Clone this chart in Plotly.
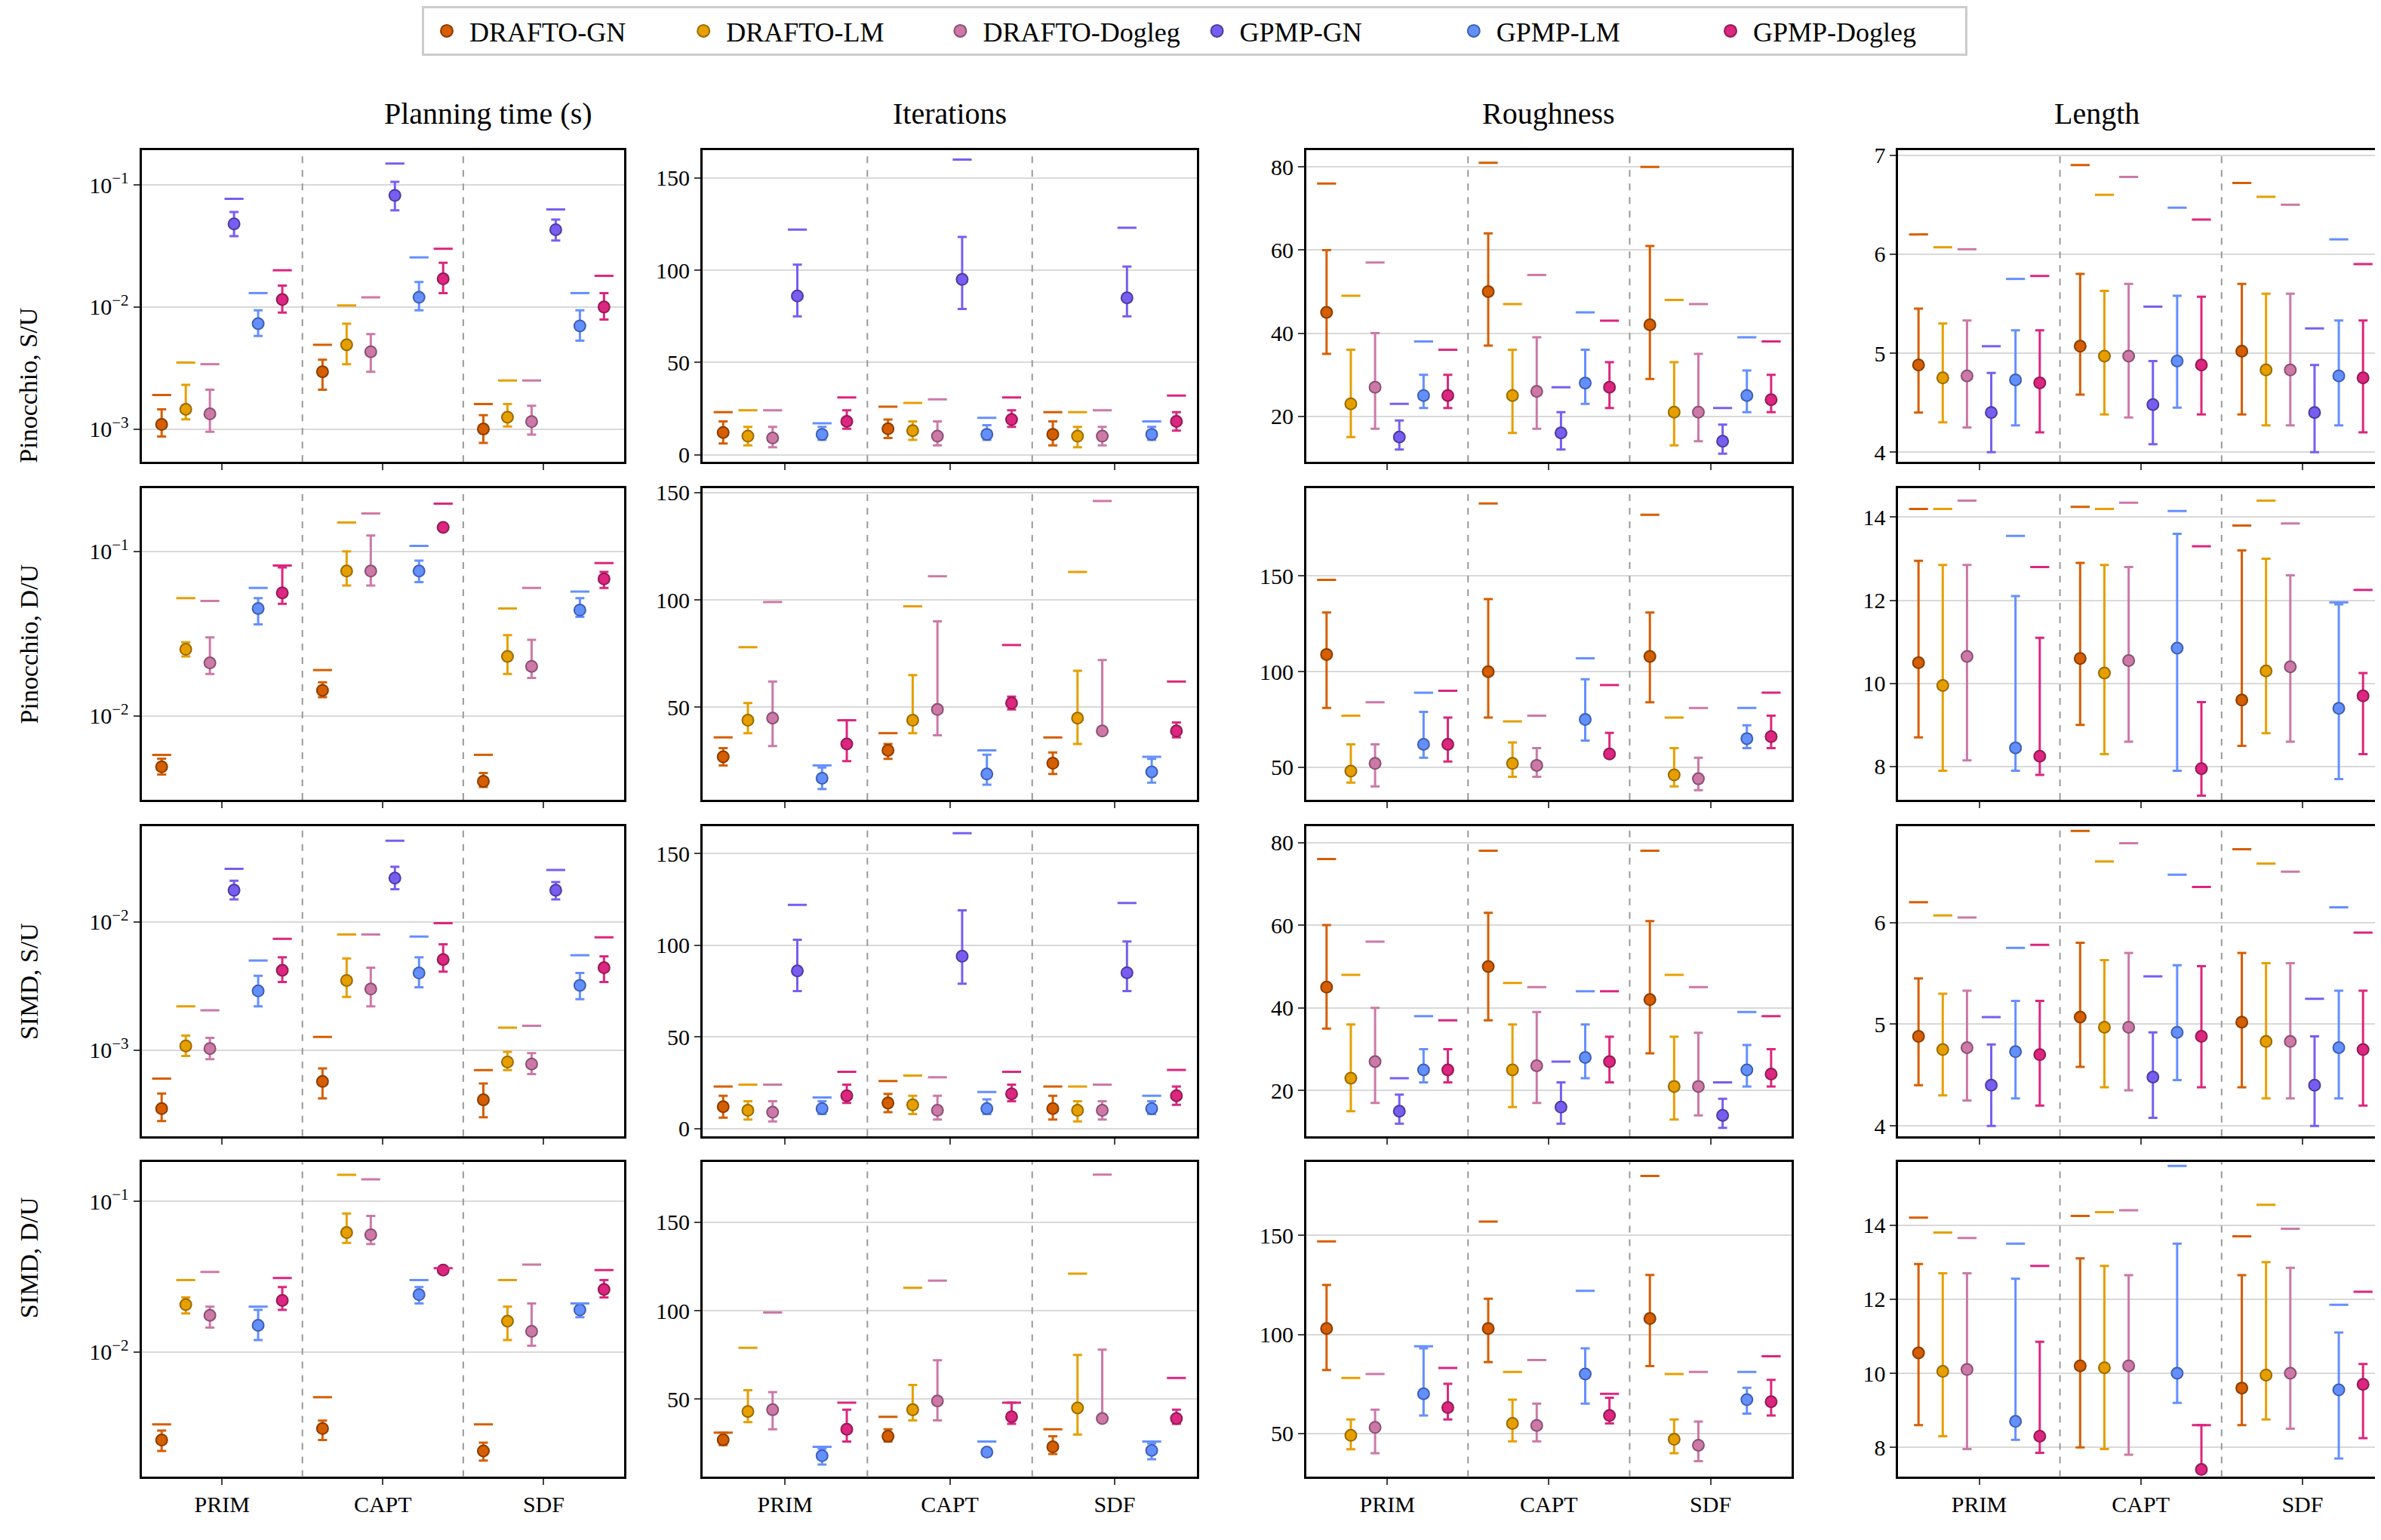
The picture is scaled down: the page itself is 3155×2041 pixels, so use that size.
import plotly.graph_objects as go
from plotly.subplots import make_subplots

methods = ["DRAFTO-GN", "DRAFTO-LM", "DRAFTO-Dogleg", "GPMP-GN", "GPMP-LM", "GPMP-Dogleg"]
colors = ["#D55E00", "#E69F00", "#CC79A7", "#785EF0", "#648FFF", "#DC267F"]
edges = ["#8a3c00", "#9a6a00", "#8a4f72", "#4e3aa0", "#3e5fb0", "#921a55"]
groups = ["PRIM", "CAPT", "SDF"]
col_titles = ["Planning time (s)", "Iterations", "Roughness", "Length"]
row_titles = ["Pinocchio, S/U", "Pinocchio, D/U", "SIMD, S/U", "SIMD, D/U"]
N = None
# each entry: (median, lower, upper, top marker) per method, per group
time_pin_su = [
    [(1.09e-3, 8.7e-4, 1.45e-3, 1.9e-3), (1.45e-3, 1.2e-3, 2.3e-3, 3.5e-3), (1.33e-3, 9.5e-4, 2.1e-3, 3.4e-3),
     (4.8e-2, 3.8e-2, 6.0e-2, 7.7e-2), (7.3e-3, 5.8e-3, 9.4e-3, 1.3e-2), (1.15e-2, 9e-3, 1.5e-2, 2e-2)],
    [(2.95e-3, 2.1e-3, 3.7e-3, 4.9e-3), (4.9e-3, 3.4e-3, 7.3e-3, 1.03e-2), (4.3e-3, 2.95e-3, 6e-3, 1.2e-2),
     (8.2e-2, 6.2e-2, 0.106, 0.15), (1.2e-2, 9.4e-3, 1.6e-2, 2.55e-2), (1.7e-2, 1.3e-2, 2.3e-2, 3e-2)],
    [(1e-3, 7.7e-4, 1.3e-3, 1.6e-3), (1.25e-3, 1.05e-3, 1.6e-3, 2.5e-3), (1.15e-3, 9e-4, 1.55e-3, 2.5e-3),
     (4.3e-2, 3.5e-2, 5.2e-2, 6.3e-2), (7e-3, 5.3e-3, 9.4e-3, 1.3e-2), (1e-2, 7.9e-3, 1.3e-2, 1.8e-2)],
]
time_pin_du = [
    [(4.9e-3, 4.4e-3, 5.5e-3, 5.8e-3), (0.0254, 0.023, 0.028, 0.052), (0.021, 0.018, 0.03, 0.05),
     N, (0.045, 0.036, 0.052, 0.06), (0.056, 0.048, 0.08, 0.082)],
    [(0.0143, 0.013, 0.016, 0.019), (0.076, 0.062, 0.1, 0.15), (0.076, 0.062, 0.125, 0.17),
     N, (0.076, 0.065, 0.088, 0.108), (0.14, 0.135, 0.145, 0.195)],
    [(4e-3, 3.7e-3, 4.5e-3, 5.8e-3), (0.023, 0.018, 0.031, 0.045), (0.02, 0.017, 0.029, 0.06),
     N, (0.044, 0.04, 0.052, 0.057), (0.068, 0.06, 0.075, 0.085)],
]
time_simd_su = [
    [(3.5e-4, 2.8e-4, 4.6e-4, 6e-4), (1.08e-3, 9e-4, 1.3e-3, 2.2e-3), (1.03e-3, 8.5e-4, 1.25e-3, 2.05e-3),
     (1.77e-2, 1.5e-2, 2.1e-2, 2.6e-2), (2.9e-3, 2.2e-3, 3.8e-3, 5e-3), (4.2e-3, 3.4e-3, 5.3e-3, 7.4e-3)],
    [(5.7e-4, 4.2e-4, 7.2e-4, 1.27e-3), (3.5e-3, 2.6e-3, 5.2e-3, 8e-3), (3e-3, 2.2e-3, 4.4e-3, 8e-3),
     (2.2e-2, 1.8e-2, 2.7e-2, 4.3e-2), (4e-3, 3.1e-3, 5.3e-3, 7.7e-3), (5.1e-3, 4.1e-3, 6.7e-3, 9.8e-3)],
    [(4.1e-4, 3e-4, 5.5e-4, 7e-4), (8.1e-4, 7e-4, 9.7e-4, 1.5e-3), (7.8e-4, 6.5e-4, 9.5e-4, 1.55e-3),
     (1.77e-2, 1.5e-2, 2.05e-2, 2.55e-2), (3.2e-3, 2.5e-3, 4e-3, 5.5e-3), (4.4e-3, 3.4e-3, 5.4e-3, 7.6e-3)],
]
time_simd_du = [
    [(2.6e-3, 2.2e-3, 3.0e-3, 3.3e-3), (0.0206, 0.018, 0.023, 0.03), (0.0175, 0.0145, 0.02, 0.034),
     N, (0.015, 0.012, 0.019, 0.02), (0.022, 0.019, 0.027, 0.031)],
    [(3.1e-3, 2.6e-3, 3.5e-3, 5e-3), (0.062, 0.053, 0.083, 0.15), (0.06, 0.052, 0.08, 0.14),
     N, (0.024, 0.021, 0.027, 0.03), (0.035, 0.034, 0.036, 0.036)],
    [(2.2e-3, 1.9e-3, 2.5e-3, 3.3e-3), (0.016, 0.012, 0.02, 0.03), (0.0137, 0.011, 0.021, 0.038),
     N, (0.019, 0.017, 0.021, 0.021), (0.026, 0.023, 0.03, 0.035)],
]
iter_su = [
    [(12, 6, 18, 23), (10, 5, 15, 24), (9, 4, 15, 24), (86, 75, 103, 122), (11, 8, 15, 17), (18, 14, 24, 31)],
    [(14, 9, 19, 26), (13, 8, 18, 28), (10, 5, 18, 30), (95, 79, 118, 160), (11, 8, 16, 20), (19, 15, 24, 31)],
    [(11, 5, 18, 23), (10, 4, 15, 23), (10, 5, 15, 24), (85, 75, 102, 123), (11, 8, 15, 18), (18, 13, 23, 32)],
]
iter_simd_su = [
    [(12, 6, 18, 23), (10, 5, 15, 24), (9, 4, 15, 24), (86, 75, 103, 122), (11, 8, 15, 17), (18, 14, 24, 31)],
    [(14, 9, 19, 26), (13, 8, 18, 29), (10, 5, 18, 28), (94, 79, 119, 161), (11, 8, 16, 20), (19, 15, 24, 31)],
    [(11, 5, 18, 23), (10, 4, 15, 23), (10, 5, 15, 24), (85, 75, 102, 123), (11, 8, 15, 18), (18, 13, 23, 32)],
]
iter_pin_du = [
    [(27, 23, 31, 36), (44, 38, 52, 78), (45, 32, 62, 99), N, (17, 12, 22, 23), (33, 25, 44, 44)],
    [(30, 26, 33, 38), (44, 38, 65, 97), (49, 37, 90, 111), N, (19, 14, 28, 30), (52, 49, 55, 79)],
    [(24, 19, 29, 36), (45, 33, 67, 113), (39, 39, 72, 146), N, (20, 15, 26, 27), (39, 36, 43, 62)],
]
iter_simd_du = [
    [(27, 24, 31, 31), (43, 37, 55, 79), (44, 33, 54, 99), N, (18, 13, 22, 23), (33, 26, 44, 48)],
    [(29, 26, 33, 40), (44, 38, 58, 113), (49, 38, 72, 117), N, (20, 18, 21, 26), (40, 36, 48, 48)],
    [(23, 19, 29, 33), (45, 30, 75, 121), (39, 39, 78, 177), N, (21, 16, 25, 26), (39, 36, 44, 62)],
]
rough_su = [
    [(45, 35, 60, 76), (23, 15, 36, 49), (27, 17, 40, 57), (15, 12, 19, 23), (25, 22, 30, 38), (25, 22, 30, 36)],
    [(50, 37, 64, 81), (25, 16, 36, 47), (26, 17, 39, 54), (16, 12, 21, 27), (28, 23, 36, 45), (27, 22, 33, 43)],
    [(42, 29, 61, 80), (21, 13, 33, 48), (21, 14, 35, 47), (14, 11, 18, 22), (25, 21, 31, 39), (24, 21, 30, 38)],
]
rough_simd_su = [
    [(45, 35, 60, 76), (23, 15, 36, 48), (27, 17, 40, 56), (15, 12, 19, 23), (25, 22, 30, 38), (25, 22, 30, 37)],
    [(50, 37, 63, 78), (25, 16, 36, 46), (26, 17, 39, 45), (16, 12, 22, 27), (28, 23, 36, 44), (27, 22, 33, 44)],
    [(42, 29, 61, 78), (21, 13, 33, 48), (21, 14, 34, 45), (14, 11, 18, 22), (25, 21, 31, 39), (24, 21, 30, 38)],
]
rough_pin_du = [
    [(109, 81, 131, 148), (48, 42, 62, 77), (52, 40, 62, 84), N, (62, 55, 79, 89), (62, 53, 76, 90)],
    [(100, 76, 138, 188), (52, 45, 63, 74), (51, 45, 60, 77), N, (75, 64, 96, 107), (57, 57, 68, 93)],
    [(108, 84, 131, 182), (46, 40, 60, 76), (44, 38, 55, 81), N, (65, 60, 72, 81), (66, 60, 77, 89)],
]
rough_simd_du = [
    [(103, 82, 125, 147), (49, 42, 57, 78), (53, 40, 62, 80), N, (70, 59, 93, 94), (63, 57, 75, 83)],
    [(103, 86, 118, 157), (55, 46, 67, 81), (54, 46, 65, 87), N, (80, 65, 93, 122), (59, 55, 68, 70)],
    [(108, 84, 130, 180), (47, 40, 57, 80), (44, 36, 56, 81), N, (67, 60, 73, 81), (66, 59, 77, 89)],
]
len_su = [
    [(4.88, 4.4, 5.45, 6.2), (4.75, 4.3, 5.3, 6.07), (4.77, 4.25, 5.33, 6.05), (4.4, 4.0, 4.8, 5.07), (4.73, 4.27, 5.23, 5.75), (4.7, 4.2, 5.23, 5.78)],
    [(5.07, 4.58, 5.8, 6.9), (4.97, 4.38, 5.63, 6.6), (4.97, 4.35, 5.7, 6.78), (4.48, 4.08, 4.92, 5.47), (4.92, 4.45, 5.58, 6.47), (4.88, 4.38, 5.57, 6.35)],
    [(5.02, 4.38, 5.7, 6.72), (4.83, 4.27, 5.6, 6.58), (4.83, 4.27, 5.6, 6.5), (4.4, 4.0, 4.88, 5.25), (4.77, 4.27, 5.33, 6.15), (4.75, 4.2, 5.33, 5.9)],
]
len_pin_du = [
    [(10.5, 8.7, 12.95, 14.2), (9.95, 7.9, 12.85, 14.2), (10.65, 8.15, 12.85, 14.4), N, (8.45, 7.9, 12.1, 13.55), (8.25, 7.8, 11.1, 12.8)],
    [(10.6, 9.0, 12.9, 14.25), (10.25, 8.3, 12.85, 14.2), (10.55, 8.6, 12.8, 14.35), N, (10.85, 7.9, 13.6, 14.15), (7.95, 7.3, 9.55, 13.3)],
    [(9.6, 8.5, 13.2, 13.8), (10.3, 8.8, 13.0, 14.4), (10.4, 8.6, 12.6, 13.85), N, (9.4, 7.7, 11.9, 11.95), (9.7, 8.3, 10.25, 12.25)],
]
len_simd_du = [
    [(10.55, 8.6, 12.95, 14.2), (10.05, 8.3, 12.7, 13.8), (10.1, 7.95, 12.7, 13.65), N, (8.7, 8.2, 12.55, 13.5), (8.3, 7.85, 10.85, 12.9)],
    [(10.2, 8.0, 13.1, 14.25), (10.15, 7.95, 12.9, 14.35), (10.2, 7.8, 12.65, 14.4), N, (10.0, 9.2, 13.5, 15.6), (7.4, 7.4, 8.6, 8.6)],
    [(9.6, 8.6, 12.65, 13.7), (9.95, 8.75, 13.0, 14.55), (10.0, 8.5, 12.85, 13.9), N, (9.55, 7.7, 11.1, 11.85), (9.7, 8.25, 10.25, 12.2)],
]

panels = [
    [time_pin_su, iter_su, rough_su, len_su],
    [time_pin_du, iter_pin_du, rough_pin_du, len_pin_du],
    [time_simd_su, iter_simd_su, rough_simd_su, len_su],
    [time_simd_du, iter_simd_du, rough_simd_du, len_simd_du],
]
log_ranges = [[-3.27, -0.716], [-2.51, -0.615], [-3.67, -1.25], [-2.83, -0.74]]
log_ticks = [[-3, -2, -1], [-2, -1], [-3, -2], [-2, -1]]
lin_ranges = {
    (0, 1): [-4, 165], (0, 2): [9, 84], (0, 3): [3.9, 7.05],
    (1, 1): [7, 152], (1, 2): [33, 196], (1, 3): [7.2, 14.7],
    (2, 1): [-4, 165], (2, 2): [9, 84], (2, 3): [3.9, 6.95],
    (3, 1): [6, 184], (3, 2): [28, 187], (3, 3): [7.2, 15.7],
}
lin_dticks = {
    (0, 1): 50, (0, 2): 20, (0, 3): 1,
    (1, 1): 50, (1, 2): 50, (1, 3): 2,
    (2, 1): 50, (2, 2): 20, (2, 3): 1,
    (3, 1): 50, (3, 2): 50, (3, 3): 2,
}

fig = make_subplots(rows=4, cols=4)
font = "Liberation Serif"
tickfont = dict(family=font, size=30, color="black")
xd = [[0.057, 0.260], [0.293, 0.501], [0.547, 0.751], [0.796, 1.0]]
yd = [[0.091, 0.294], [0.311, 0.514], [0.531, 0.733], [0.750, 0.955]]
offs = [-0.375, -0.225, -0.075, 0.075, 0.225, 0.375]
sup = {-3: "10<sup>−3</sup>", -2: "10<sup>−2</sup>", -1: "10<sup>−1</sup>"}

for r in range(4):
    for c in range(4):
        data = panels[r][c]
        for m in range(6):
            xs, ys, up, dn, tops = [], [], [], [], []
            for g in range(3):
                v = data[g][m]
                if v is None:
                    continue
                med, lo, hi, top = v
                xs.append(g + offs[m]); ys.append(med)
                up.append(hi - med); dn.append(med - lo); tops.append(top)
            if not xs:
                continue
            fig.add_trace(go.Scatter(
                x=xs, y=ys, mode="markers", showlegend=False,
                marker=dict(color=colors[m], size=15, line=dict(color=edges[m], width=2)),
                error_y=dict(type="data", array=up, arrayminus=dn, color=colors[m], thickness=3, width=6)),
                row=r + 1, col=c + 1)
            fig.add_trace(go.Scatter(
                x=xs, y=tops, mode="markers", showlegend=False,
                marker=dict(symbol="line-ew", size=18, line=dict(color=colors[m], width=3))),
                row=r + 1, col=c + 1)
        idx = r * 4 + c + 1
        xa = "xaxis" if idx == 1 else f"xaxis{idx}"
        ya = "yaxis" if idx == 1 else f"yaxis{idx}"
        fig.layout[xa].update(domain=xd[c], range=[-0.5, 2.5], tickvals=[0, 1, 2],
                              ticktext=groups if r == 3 else ["", "", ""], showgrid=False,
                              zeroline=False, showline=True, mirror=True, linecolor="black",
                              linewidth=3, ticks="outside", ticklen=8, tickwidth=2, tickfont=tickfont,
                              automargin=False)
        ycommon = dict(domain=[1 - yd[r][1], 1 - yd[r][0]], showline=True, mirror=True,
                       linecolor="black", linewidth=3, ticks="outside", ticklen=8, tickwidth=2,
                       gridcolor="#d9d9d9", gridwidth=2, zeroline=False, tickfont=tickfont,
                       automargin=False)
        if c == 0:
            fig.layout[ya].update(type="log", range=log_ranges[r],
                                  tickvals=[10 ** k for k in log_ticks[r]],
                                  ticktext=[sup[k] for k in log_ticks[r]], **ycommon)
        else:
            fig.layout[ya].update(range=lin_ranges[(r, c)], dtick=lin_dticks[(r, c)], tick0=0, **ycommon)
        for xv in [0.5, 1.5]:
            fig.add_shape(type="line", xref=xa.replace("axis", ""), yref=f"{ya.replace('axis', '')} domain",
                          x0=xv, x1=xv, y0=0, y1=1, line=dict(color="#999999", width=2, dash="dash"))

for c in range(4):
    fig.add_annotation(text=col_titles[c], xref="paper", yref="paper", x=sum(xd[c]) / 2, y=1 - 0.091 + 0.012,
                       yanchor="bottom", showarrow=False, font=dict(family=font, size=40, color="black"))
for r in range(4):
    fig.add_annotation(text=row_titles[r], xref="paper", yref="paper", x=0.003, y=1 - sum(yd[r]) / 2,
                       xanchor="left", textangle=-90, showarrow=False, font=dict(family=font, size=34, color="black"))

for m in range(6):
    fig.add_trace(go.Scatter(x=[None], y=[None], mode="markers", name=methods[m],
                             marker=dict(color=colors[m], size=16, line=dict(color=edges[m], width=2))))

fig.update_layout(
    width=3155, height=2041, paper_bgcolor="white", plot_bgcolor="white",
    margin=dict(l=0, r=5, t=0, b=0),
    font=dict(family=font, size=34, color="black"),
    legend=dict(orientation="h", x=0.5, xanchor="center", y=1.003, yanchor="top",
                bordercolor="#cccccc", borderwidth=3, font=dict(family=font, size=36), itemwidth=50,
                entrywidth=0.108, entrywidthmode="fraction", tracegroupgap=0),
)
fig.write_html("out.html")
